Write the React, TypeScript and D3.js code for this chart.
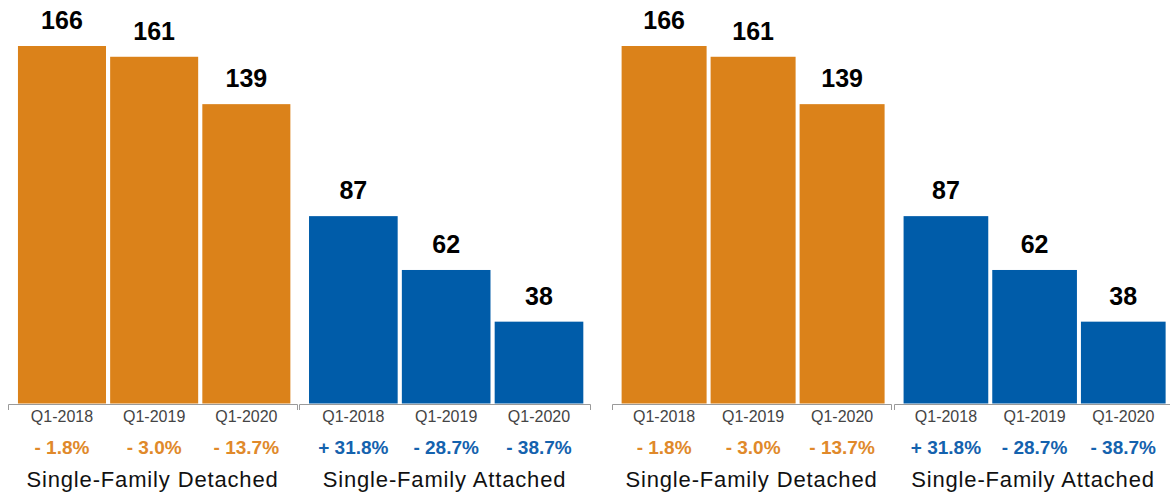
import React, { useEffect, useRef } from "react";
import * as d3 from "d3";

const periods = ["Q1-2018", "Q1-2019", "Q1-2020"];
const groupNames = ["Single-Family Detached", "Single-Family Attached"];
const detachedValues = [166, 161, 139];
const attachedValues = [87, 62, 38];
const detachedChanges = ["- 1.8%", "- 3.0%", "- 13.7%"];
const attachedChanges = ["+ 31.8%", "- 28.7%", "- 38.7%"];

const seriesValues = [detachedValues, attachedValues];
const seriesChanges = [detachedChanges, attachedChanges];
const barColors = ["#DB821A", "#005CA9"];
const textColors = ["#E0892A", "#1462AE"];

const W = 1170;
const H = 495;
const FONT = "'Liberation Sans', Arial, Helvetica, sans-serif";

// axis extents for each group, per panel
const panels = [
  { groups: [[8, 297], [299, 590]] },
  { groups: [[612, 891], [894, 1172]] },
];

const y = d3.scaleLinear().domain([0, 166]).range([403.5, 46]);
const axisY = 404;

function Group({ range, gi }: { range: number[]; gi: number }) {
  const ref = useRef<SVGGElement>(null);
  const x = d3
    .scaleBand<string>()
    .domain(periods)
    .range([range[0], range[1]] as [number, number])
    .paddingInner(0.045)
    .paddingOuter(0.09)
    .align(0.6);
  useEffect(() => {
    if (!ref.current) return;
    const g = d3.select(ref.current);
    g.selectAll("*").remove();
    g.call(
      d3
        .axisBottom(x)
        .tickSizeInner(0)
        .tickSizeOuter(6)
        .tickFormat(() => "")
    );
    g.select(".domain").attr("stroke", "#9a9a9a").attr("stroke-width", 1);
    g.selectAll(".tick").remove();
  });
  const vals = seriesValues[gi];
  const changes = seriesChanges[gi];
  const bw = x.bandwidth();
  return (
    <g>
      {periods.map((p, i) => {
        const x0 = x(p) as number;
        const cx = x0 + bw / 2;
        return (
          <g key={p}>
            <rect
              x={x0}
              y={y(vals[i])}
              width={bw}
              height={y(0) - y(vals[i])}
              fill={barColors[gi]}
            />
            <text
              x={cx}
              y={y(vals[i]) - 17}
              textAnchor="middle"
              fontFamily={FONT}
              fontWeight="bold"
              fontSize={25}
              fill="#000"
            >
              {vals[i]}
            </text>
            <text
              x={cx}
              y={422}
              textAnchor="middle"
              fontFamily={FONT}
              fontSize={16}
              fill="#444"
            >
              {p}
            </text>
            <text
              x={cx}
              y={453.5}
              textAnchor="middle"
              fontFamily={FONT}
              fontWeight="bold"
              fontSize={19}
              fill={textColors[gi]}
            >
              {changes[i]}
            </text>
          </g>
        );
      })}
      <g ref={ref} transform={`translate(0,${axisY})`} />
      <text
        x={(range[0] + range[1]) / 2}
        y={487}
        textAnchor="middle"
        fontFamily={FONT}
        fontSize={22}
        letterSpacing={0.85}
        fill="#111"
      >
        {groupNames[gi]}
      </text>
    </g>
  );
}

export default function App() {
  return (
    <svg
      width={W}
      height={H}
      viewBox={`0 0 ${W} ${H}`}
      style={{ position: "absolute", left: 0, top: 0, display: "block", background: "#fff" }}
    >
      <rect width={W} height={H} fill="#fff" />
      {panels.map((pn, pi) => (
        <g key={pi}>
          {pn.groups.map((r, gi) => (
            <Group key={gi} range={r} gi={gi} />
          ))}
        </g>
      ))}
    </svg>
  );
}
